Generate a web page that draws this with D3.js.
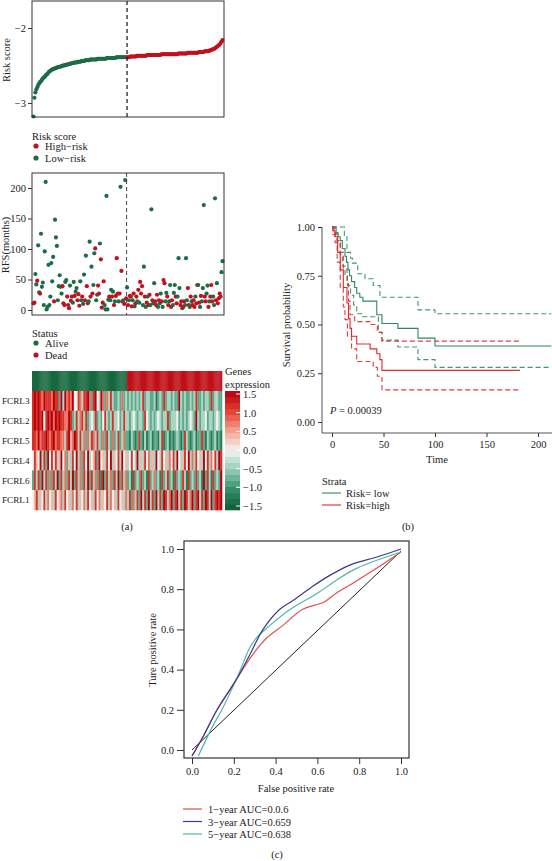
<!DOCTYPE html>
<html><head><meta charset="utf-8">
<script src="https://cdn.jsdelivr.net/npm/d3@7"></script>
<style>
body{margin:0;background:#fff}
svg{display:block}
text{font-family:"Liberation Serif","DejaVu Serif",serif;fill:#222}
</style>
</head><body>
<script>
// ---------------- DATA ----------------
// (a) risk score, sorted, low-risk group then high-risk group
const riskLow = [-3.18,-2.93,-2.86,-2.82,-2.79,-2.76,-2.74,-2.72,-2.71,-2.69,-2.67,-2.66,-2.65,-2.63,-2.62,-2.61,-2.59,-2.58,-2.57,-2.56,
 -2.55,-2.55,-2.54,-2.54,-2.53,-2.53,-2.52,-2.52,-2.52,-2.51,-2.51,-2.50,-2.50,-2.50,-2.49,-2.49,-2.49,-2.48,-2.48,-2.48,
 -2.47,-2.47,-2.47,-2.46,-2.46,-2.46,-2.46,-2.45,-2.45,-2.45,-2.45,-2.44,-2.44,-2.44,-2.44,-2.43,-2.43,-2.43,-2.43,-2.43,
 -2.42,-2.42,-2.42,-2.42,-2.42,-2.42,-2.42,-2.42,-2.41,-2.41,-2.41,-2.41,-2.41,-2.41,-2.41,-2.41,-2.41,-2.41,-2.40,-2.40,
 -2.40,-2.40,-2.40,-2.40,-2.40,-2.40,-2.40,-2.40,-2.39,-2.39,-2.39,-2.39,-2.39,-2.39,-2.39,-2.39,-2.39,-2.39,-2.39,-2.39];
const riskHigh = [-2.39,-2.39,-2.39,-2.38,-2.38,-2.38,-2.38,-2.38,-2.38,-2.38,-2.37,-2.37,-2.37,-2.37,-2.37,-2.37,-2.37,-2.37,-2.37,-2.37,
 -2.37,-2.36,-2.36,-2.36,-2.36,-2.36,-2.36,-2.36,-2.36,-2.36,-2.36,-2.36,-2.36,-2.36,-2.36,-2.36,-2.35,-2.35,-2.35,-2.35,
 -2.35,-2.35,-2.35,-2.35,-2.35,-2.35,-2.35,-2.35,-2.35,-2.35,-2.35,-2.35,-2.35,-2.35,-2.34,-2.34,-2.34,-2.34,-2.34,-2.34,
 -2.34,-2.34,-2.34,-2.34,-2.33,-2.33,-2.33,-2.33,-2.33,-2.33,-2.33,-2.33,-2.33,-2.33,-2.33,-2.33,-2.32,-2.32,-2.32,-2.32,
 -2.32,-2.32,-2.31,-2.31,-2.31,-2.31,-2.31,-2.30,-2.30,-2.29,-2.29,-2.28,-2.28,-2.27,-2.26,-2.25,-2.24,-2.23,-2.22,-2.20,
 -2.18,-2.16];
// RFS (months) and status (0 = Alive, 1 = Dead)
const rfsLow = [11,12,59,42,48,106,29,27,125,38,45,8,96,210,1,5,74,8,22,77,47,87,14,148,119,105,16,39,57,38,
 27,39,11,8,46,49,22,8,3,40,15,22,12,46,23,30,36,16,26,7,47,16,22,10,58,16,89,39,11,14,
 112,22,71,27,41,93,101,16,25,40,27,109,83,4,12,47,8,1,187,1,17,22,16,33,22,30,8,14,23,85,
 27,14,27,202,64,14,16,10,213,19];
const statusLow = [1,1,0,0,1,0,0,1,0,0,0,0,0,0,0,0,0,0,0,0,0,0,1,0,0,0,0,0,0,0,
 0,1,1,1,0,0,1,1,1,0,1,1,0,0,1,0,0,1,1,1,0,0,1,0,0,1,0,1,1,0,
 0,1,0,1,0,0,1,0,0,1,1,0,1,1,1,1,0,0,0,0,0,1,0,0,1,0,1,0,1,1,
 1,0,1,0,1,1,0,1,0,1];
const rfsHigh = [37,8,16,23,22,6,16,27,6,11,22,14,33,12,46,27,39,8,71,22,5,12,22,8,25,8,165,16,11,44,
 14,8,25,5,16,11,27,14,5,49,44,14,28,22,8,14,41,5,16,8,28,41,22,11,22,85,36,8,14,3,
 5,14,8,85,16,36,8,5,22,14,8,16,5,22,11,41,41,12,5,23,14,36,172,22,14,27,40,5,14,22,
 41,14,22,8,183,16,44,11,19,27,22,62,80];
const statusHigh = [0,1,0,1,1,1,0,1,0,1,1,0,1,0,1,1,1,0,0,1,0,1,0,1,1,0,0,1,0,0,
 1,1,1,0,1,0,0,1,0,1,1,0,0,1,1,0,0,1,1,0,0,0,1,1,0,0,0,1,1,0,
 1,1,0,0,0,1,1,0,1,0,1,1,1,0,1,1,0,1,0,1,0,0,0,1,1,0,0,1,0,1,
 1,1,0,0,0,1,0,1,1,1,1,0,0];
const rfsTicks = [0,50,100,150,200];
const riskTicks = [-3,-2];
// heatmap: digits 0..8 -> expression -1.5 .. 1.5 (low group | high group)
const genes = ["FCRL3","FCRL2","FCRL5","FCRL4","FCRL6","FCRL1"];
const exprLow = [
 "78787687776877283867684476377862784386263732232623",
 "78787847878687877668723736737234372324732373342373",
 "77686778767867766378568737362637637326273262372362",
 "47548372847475384625374836274834572845374835473845",
 "27372837262738273627382736273827362718273627382736",
 "45735473645374563745364735463745374635473645374536"];
const exprHigh = [
 "23232323723322312327233232283232232372232332723322",
 "32343233274323234323372333423232343283233423323432",
 "21321272131231221371231212321273212312272132123121",
 "34743835374635384374536473843574836374538473647387",
 "23172327231723623172372317232731723272318273172328",
 "37263728372837283728736827837287368278372873827878"];
const exprTicks = [1.5,1.0,0.5,0.0,-0.5,-1.0,-1.5];
// (b) Kaplan-Meier curves [time, survival]
const kmLow      = [[0,1],[4,0.97],[6,0.95],[8,0.93],[10,0.89],[12.6,0.85],[14,0.82],[15.5,0.78],[17,0.75],[19,0.72],[22,0.69],[24,0.66],[27,0.64],[30,0.62],[43.5,0.55],[48.5,0.505],[64,0.48],[83.5,0.43],[100,0.39],[213,0.39]];
const kmLowUp    = [[0,1],[10,1],[12,0.95],[14.5,0.87],[18,0.84],[20,0.815],[25,0.76],[32,0.735],[40,0.70],[46.5,0.64],[83.5,0.575],[100,0.555],[213,0.555]];
const kmLowLo    = [[0,1],[3,0.96],[5,0.92],[8,0.86],[10,0.8],[12.6,0.75],[15,0.7],[18,0.65],[21,0.6],[24,0.555],[30,0.54],[45,0.46],[48.5,0.42],[64,0.385],[83.5,0.32],[100,0.28],[213,0.28]];
const kmHigh     = [[0,1],[1,0.98],[3,0.95],[5.5,0.87],[8,0.78],[11,0.69],[14.5,0.61],[16,0.53],[17.5,0.48],[19,0.44],[24,0.40],[37,0.375],[43.5,0.35],[46.5,0.32],[48.5,0.265],[182.5,0.265]];
const kmHighUp   = [[0,1],[2,0.97],[5,0.93],[8,0.87],[11,0.79],[14.5,0.71],[16,0.62],[17.5,0.55],[22,0.515],[38,0.50],[44,0.46],[48.5,0.415],[182.5,0.415]];
const kmHighLo   = [[0,1],[1,0.96],[3,0.92],[5,0.82],[8,0.69],[11,0.59],[12.6,0.525],[15,0.44],[19,0.375],[24,0.31],[40,0.28],[44,0.235],[48.5,0.165],[182.5,0.165]];
const kmXTicks = [0,50,100,150,200];
const kmYTicks = [0,0.25,0.5,0.75,1];
// (c) ROC curves [fpr, tpr]
const roc1 = [[0,-0.03],[0.06,0.08],[0.12,0.2],[0.206,0.34],[0.28,0.46],[0.35,0.55],[0.435,0.62],[0.53,0.70],[0.63,0.735],[0.69,0.78],[0.77,0.83],[0.87,0.895],[1.0,0.985]];
const roc3 = [[0,-0.03],[0.06,0.08],[0.12,0.2],[0.206,0.34],[0.27,0.46],[0.34,0.60],[0.42,0.70],[0.485,0.745],[0.565,0.805],[0.645,0.86],[0.755,0.92],[0.885,0.96],[1,1.0]];
const roc5 = [[0.03,-0.03],[0.1,0.12],[0.143,0.2],[0.22,0.37],[0.277,0.51],[0.31,0.56],[0.373,0.62],[0.47,0.70],[0.6,0.78],[0.69,0.845],[0.79,0.905],[1,0.985]];
const rocDiag = [[0,0],[1,0.99]];
const rocLabels = ["1−year AUC=0.0.6","3−year AUC=0.659","5−year AUC=0.638"];
const rocTicks = [0,0.2,0.4,0.6,0.8,1.0];

// ---------------- DRAW ----------------
const GREEN="#1c6c48", RED="#c3101c";
const svg=d3.select("body").append("svg").attr("width",552).attr("height",861);
const fmtMinus = d => (d<0?"−":"")+Math.abs(d);

function styleAxis(g,fs){g.selectAll("path,line").attr("stroke","#333");g.selectAll("text").attr("font-size",fs||10.5).attr("fill","#222").style("font-family","Liberation Serif, serif");}

// ---- (a) risk score
const risk=riskLow.concat(riskHigh), nLow=riskLow.length, N=risk.length;
const xIdx=d3.scaleLinear().domain([0,N-1]).range([33.5,222.5]);
const yRisk=d3.scaleLinear().domain([-3,-2]).range([103,28]);
svg.append("g").attr("transform","translate(32,0)")
  .call(d3.axisLeft(yRisk).tickValues(riskTicks).tickSize(4).tickPadding(2).tickFormat(fmtMinus)).call(g=>g.select(".domain").remove()).call(styleAxis);
svg.append("g").selectAll("circle").data(risk).join("circle")
  .attr("cx",(d,i)=>xIdx(i)).attr("cy",d=>yRisk(d)).attr("r",2.1)
  .attr("fill",(d,i)=>i<nLow?GREEN:RED);
const xCut=(xIdx(nLow-1)+xIdx(nLow))/2;
svg.append("line").attr("x1",xCut).attr("x2",xCut).attr("y1",1).attr("y2",117).attr("stroke","#111").attr("stroke-width",1.2).attr("stroke-dasharray","4,3");
svg.append("rect").attr("x",32).attr("y",1).attr("width",192).attr("height",116).attr("fill","none").attr("stroke","#333").attr("stroke-width",1);
svg.append("text").attr("transform","translate(10,60) rotate(-90)").attr("text-anchor","middle").attr("font-size",10.5).text("Risk score");

// legend risk
svg.append("text").attr("x",32).attr("y",140).attr("font-size",10.5).text("Risk score");
[["High−risk",RED],["Low−risk",GREEN]].forEach((d,i)=>{
  svg.append("circle").attr("cx",36).attr("cy",146+i*12).attr("r",2.6).attr("fill",d[1]);
  svg.append("text").attr("x",45).attr("y",150+i*12).attr("font-size",10.5).text(d[0]);
});

// ---- (a) scatter RFS
const rfs=rfsLow.concat(rfsHigh), stat=statusLow.concat(statusHigh);
const xIdx2=d3.scaleLinear().domain([0,rfs.length-1]).range([33.5,222.5]);
const yRFS=d3.scaleLinear().domain([0,200]).range([310,188]);
svg.append("g").attr("transform","translate(32,0)")
  .call(d3.axisLeft(yRFS).tickValues(rfsTicks).tickSize(4).tickPadding(2)).call(g=>g.select(".domain").remove()).call(styleAxis);
svg.append("g").selectAll("circle").data(rfs).join("circle")
  .attr("cx",(d,i)=>xIdx2(i)).attr("cy",d=>yRFS(d)).attr("r",2.1)
  .attr("fill",(d,i)=>stat[i]?RED:GREEN);
const xCut2=(xIdx2(rfsLow.length-1)+xIdx2(rfsLow.length))/2;
svg.append("line").attr("x1",xCut2).attr("x2",xCut2).attr("y1",173).attr("y2",315).attr("stroke","#444").attr("stroke-width",1).attr("stroke-dasharray","4,3");
svg.append("rect").attr("x",32).attr("y",173).attr("width",192).attr("height",142).attr("fill","none").attr("stroke","#333").attr("stroke-width",1);
svg.append("text").attr("transform","translate(9,245) rotate(-90)").attr("text-anchor","middle").attr("font-size",10.5).text("RFS(months)");

// legend status
svg.append("text").attr("x",32).attr("y",337).attr("font-size",10.5).text("Status");
[["Alive",GREEN],["Dead",RED]].forEach((d,i)=>{
  svg.append("circle").attr("cx",36).attr("cy",343+i*12).attr("r",2.6).attr("fill",d[1]);
  svg.append("text").attr("x",45).attr("y",347+i*12).attr("font-size",10.5).text(d[0]);
});

// ---- (a) heatmap
const hmColor=d3.scaleLinear().domain([-1.5,-1,-0.5,0,0.5,1,1.5])
  .range(["#0b5a35","#2f8a63","#8fc9b2","#f2f4f2","#f5a190","#e5402f","#b3000f"]);
const toVal=c=>(+c-4)*0.375;
const yRow=d3.scaleBand().domain(genes).range([391,510]);
const hm=svg.append("g");
// annotation bar
const annLow=d3.scaleBand().domain(d3.range(nLow)).range([32,xCut]);
const annHigh=d3.scaleBand().domain(d3.range(N-nLow)).range([xCut,222]);
hm.append("g").selectAll("rect").data(d3.range(nLow)).join("rect")
  .attr("x",d=>annLow(d)).attr("width",annLow.bandwidth()+0.3).attr("y",371).attr("height",20).attr("fill","#17693f");
hm.append("g").selectAll("rect").data(d3.range(N-nLow)).join("rect")
  .attr("x",d=>annHigh(d)).attr("width",annHigh.bandwidth()+0.3).attr("y",371).attr("height",20).attr("fill","#c0101a");
genes.forEach((g,r)=>{
  [[exprLow[r],32,xCut],[exprHigh[r],xCut,222]].forEach(([s,x0,x1])=>{
    const vals=s.split("").map(toVal);
    const xb=d3.scaleBand().domain(d3.range(vals.length)).range([x0,x1]);
    hm.append("g").selectAll("rect").data(vals).join("rect")
      .attr("x",(d,i)=>xb(i)).attr("width",xb.bandwidth()+0.3)
      .attr("y",yRow(g)).attr("height",yRow.bandwidth()+0.3)
      .attr("fill",d=>hmColor(d));
  });
  svg.append("text").attr("x",2).attr("y",yRow(g)+yRow.bandwidth()/2+3.3).attr("text-anchor","start").attr("font-size",9.2).text(g);
});
// color legend
svg.append("text").attr("x",225).attr("y",375).attr("font-size",10.5).text("Genes");
svg.append("text").attr("x",225).attr("y",388).attr("font-size",10.5).text("expression");
const yLeg=d3.scaleLinear().domain([-1.5,1.5]).range([510,391]);
const steps=d3.range(20).map(i=>-1.5+i*3/20);
svg.append("g").selectAll("rect").data(steps).join("rect")
  .attr("x",225).attr("width",15).attr("y",d=>yLeg(d+0.15)).attr("height",yLeg(-1.5)-yLeg(-1.35)+0.3)
  .attr("fill",d=>hmColor(d+0.075));
const yLegT=d3.scaleLinear().domain([-1.5,1.5]).range([506,394]);
svg.append("g").attr("transform","translate(240,0)")
  .call(d3.axisRight(yLegT).tickValues(exprTicks).tickSize(0).tickPadding(3).tickFormat(d=>(d<0?"−":"")+d3.format(".1f")(Math.abs(d))))
  .call(g=>g.select(".domain").remove()).call(styleAxis);
svg.append("g").selectAll("line").data(exprTicks).join("line")
  .attr("x1",236).attr("x2",240).attr("y1",d=>yLegT(d)).attr("y2",d=>yLegT(d)).attr("stroke","#fff").attr("stroke-width",1);
svg.append("text").attr("x",127).attr("y",530).attr("text-anchor","middle").attr("font-size",10.5).text("(a)");

// ---- (b) KM
const xKM=d3.scaleLinear().domain([0,200]).range([332,538]);
const yKM=d3.scaleLinear().domain([0,1]).range([422,227]);
svg.append("line").attr("x1",322).attr("x2",322).attr("y1",227).attr("y2",433).attr("stroke","#555");
svg.append("line").attr("x1",322).attr("x2",552).attr("y1",433).attr("y2",433).attr("stroke","#555");
svg.append("g").attr("transform","translate(322,0)")
  .call(d3.axisLeft(yKM).tickValues(kmYTicks).tickSize(4).tickFormat(d3.format(".2f"))).call(g=>g.select(".domain").remove()).call(styleAxis);
svg.append("g").attr("transform","translate(0,433)")
  .call(d3.axisBottom(xKM).tickValues(kmXTicks).tickSize(4).tickPadding(4)).call(g=>g.select(".domain").remove()).call(styleAxis);
const KG="#2d8a5e", KR="#e3262c";
const stepLine=d3.line().x(d=>xKM(d[0])).y(d=>yKM(d[1])).curve(d3.curveStepAfter);
[[kmLowUp,KG,true],[kmLowLo,KG,true],[kmHighUp,KR,true],[kmHighLo,KR,true],[kmLow,KG,false],[kmHigh,KR,false]].forEach(([d,c,dash])=>{
  svg.append("path").attr("d",stepLine(d)).attr("fill","none").attr("stroke",c).attr("stroke-width",1.1)
    .attr("stroke-dasharray",dash?"5,3":null).attr("opacity",dash?0.9:1);
});
const pt=svg.append("text").attr("x",330).attr("y",414).attr("font-size",10.5);
pt.append("tspan").attr("font-style","italic").text("P");
pt.append("tspan").text(" = 0.00039");
svg.append("text").attr("transform","translate(290,325) rotate(-90)").attr("text-anchor","middle").attr("font-size",10.5).text("Survival probability");
svg.append("text").attr("x",437).attr("y",463).attr("text-anchor","middle").attr("font-size",10.5).text("Time");
svg.append("text").attr("x",322).attr("y",485).attr("font-size",10.5).text("Strata");
[["Risk= low",KG],["Risk=high",KR]].forEach((d,i)=>{
  svg.append("line").attr("x1",322).attr("x2",341).attr("y1",493+i*12).attr("y2",493+i*12).attr("stroke",d[1]).attr("stroke-width",1.1);
  svg.append("text").attr("x",346).attr("y",497+i*12).attr("font-size",10.5).text(d[0]);
});
svg.append("text").attr("x",408).attr("y",530).attr("text-anchor","middle").attr("font-size",10.5).text("(b)");

// ---- (c) ROC
const xR=d3.scaleLinear().domain([0,1]).range([192,401]);
const yR=d3.scaleLinear().domain([0,1]).range([750,549]);
svg.append("g").attr("transform","translate(184,0)")
  .call(d3.axisLeft(yR).tickValues(rocTicks).tickSize(7).tickPadding(3).tickFormat(d3.format(".1f"))).call(g=>g.select(".domain").remove()).call(styleAxis);
svg.append("g").attr("transform","translate(0,758)")
  .call(d3.axisBottom(xR).tickValues(rocTicks).tickSize(6).tickPadding(4).tickFormat(d3.format(".1f"))).call(g=>g.select(".domain").remove()).call(styleAxis);
const rocLine=d3.line().x(d=>xR(d[0])).y(d=>yR(d[1])).curve(d3.curveCatmullRom.alpha(0.5));
const rocCols=["#e0504e","#3b3a8e","#4cb7a6"];
svg.append("path").attr("d",d3.line().x(d=>xR(d[0])).y(d=>yR(d[1]))(rocDiag)).attr("stroke","#222").attr("fill","none").attr("stroke-width",1);
[roc1,roc5,roc3].forEach((d,i)=>{
  const c=[rocCols[0],rocCols[2],rocCols[1]][i];
  svg.append("path").attr("d",rocLine(d)).attr("fill","none").attr("stroke",c).attr("stroke-width",1.2);
});
svg.append("rect").attr("x",184).attr("y",541).attr("width",225).attr("height",217).attr("fill","none").attr("stroke","#333").attr("stroke-width",1.2);
svg.append("text").attr("x",296).attr("y",792).attr("text-anchor","middle").attr("font-size",10.5).text("False positive rate");
svg.append("text").attr("transform","translate(156,650) rotate(-90)").attr("text-anchor","middle").attr("font-size",10.5).text("Ture positive rate");
rocLabels.forEach((t,i)=>{
  svg.append("line").attr("x1",183).attr("x2",202).attr("y1",809+i*12.5).attr("y2",809+i*12.5).attr("stroke",rocCols[i]).attr("stroke-width",1.2);
  svg.append("text").attr("x",208).attr("y",813+i*12.5).attr("font-size",10.5).text(t);
});
svg.append("text").attr("x",277).attr("y",858).attr("text-anchor","middle").attr("font-size",10.5).text("(c)");
</script>
</body></html>
